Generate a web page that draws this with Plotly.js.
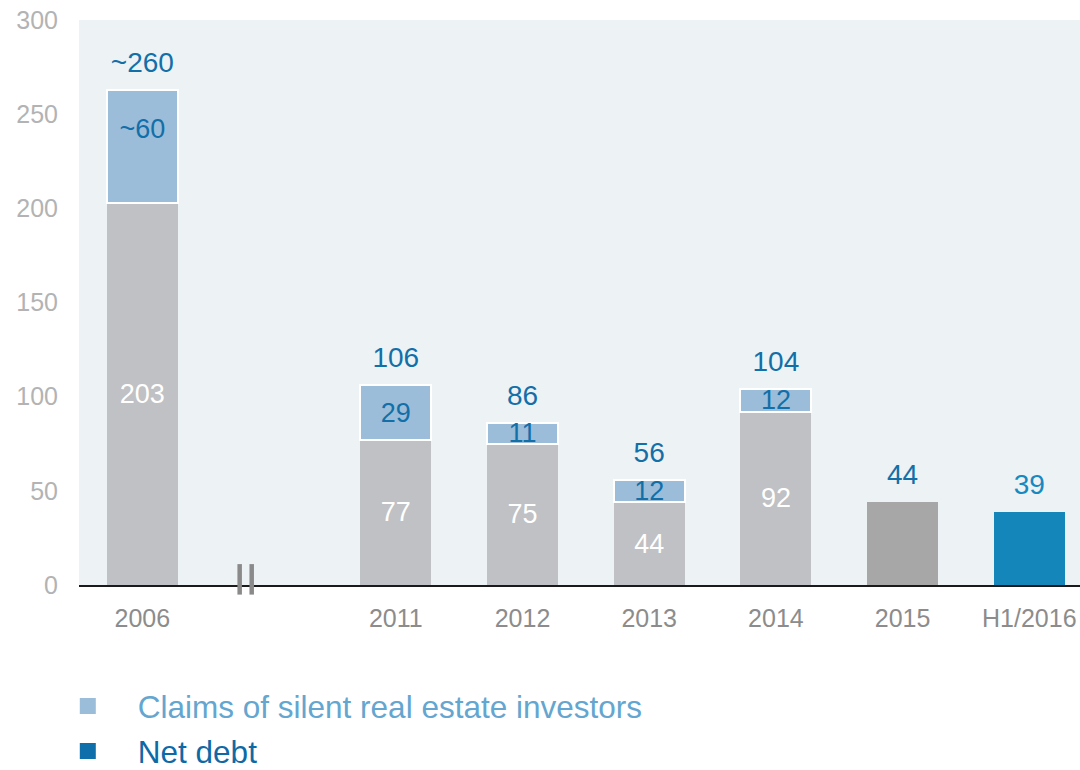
<!DOCTYPE html>
<html>
<head>
<meta charset="utf-8">
<script src="https://cdn.plot.ly/plotly-3.0.1.min.js"></script>
<style>html,body{margin:0;padding:0;background:#fff;}#chart{width:1080px;height:770px;}</style>
</head>
<body>
<div id="chart"></div>
<script>
// ---- data ----
var categories = ['2006', ' ', '2011', '2012', '2013', '2014', '2015', 'H1/2016'];
var baseValues = [203, null, 77, 75, 44, 92, null, null];
var baseLabels = ['203', '', '77', '75', '44', '92', '', ''];
var value2015 = [null, null, null, null, null, null, 44, null];
var netDebtValues = [null, null, null, null, null, null, null, 39];
var claimsValues = [null, null, 29, 11, 12, 12, null, null];
var claimsLabels = ['', '', '29', '11', '12', '12', '', ''];
var claims2006Values = [60, null, null, null, null, null, null, null];
var claims2006Labels = ['~60<br>\u00a0', '', '', '', '', '', '', ''];
var totalValues = [263, null, 106, 86, 56, 104, 44, 39];
var totalLabels = ['~260', '', '106', '86', '56', '104', '44', '39'];
var yTicks = [0, 50, 100, 150, 200, 250, 300];
var legendNames = ['Claims of silent real estate investors', 'Net debt'];

var FONT = '"Liberation Sans", Arial, sans-serif';
var GRAY = '#c0c1c4', GRAY2015 = '#a7a7a7', NETDEBT = '#1486b9', CLAIMS = '#9bbdd9';
var BLUE_TXT = '#136fa8';

var traces = [
  {
    type: 'bar', x: categories, y: baseValues, name: 'Base',
    marker: {color: GRAY},
    text: baseLabels, textposition: 'inside', insidetextanchor: 'middle', constraintext: 'none', textangle: 0,
    textfont: {family: FONT, size: 27, color: '#ffffff'},
    showlegend: false, hoverinfo: 'x+y'
  },
  {
    type: 'bar', x: categories, y: value2015, name: '2015',
    marker: {color: GRAY2015}, showlegend: false, hoverinfo: 'x+y'
  },
  {
    type: 'bar', x: categories, y: netDebtValues, name: legendNames[1],
    marker: {color: NETDEBT}, showlegend: false, hoverinfo: 'x+y'
  },
  {
    type: 'bar', x: categories, y: claimsValues, name: legendNames[0],
    showlegend: false,
    marker: {color: CLAIMS, line: {color: '#ffffff', width: 2}},
    text: claimsLabels, textposition: 'inside', insidetextanchor: 'middle', constraintext: 'none', textangle: 0,
    textfont: {family: FONT, size: 27, color: BLUE_TXT}, hoverinfo: 'x+y'
  },
  {
    type: 'bar', x: categories, y: claims2006Values, name: legendNames[0],
    showlegend: false,
    marker: {color: CLAIMS, line: {color: '#ffffff', width: 2}},
    text: claims2006Labels, textposition: 'inside', insidetextanchor: 'middle', constraintext: 'none', textangle: 0,
    textfont: {family: FONT, size: 27, color: BLUE_TXT}, hoverinfo: 'x+y'
  },
  {
    type: 'scatter', mode: 'text+markers', x: categories, y: totalValues,
    text: totalLabels, textposition: 'top center',
    marker: {size: 16, opacity: 0},
    textfont: {family: FONT, size: 28, color: [BLUE_TXT, BLUE_TXT, BLUE_TXT, BLUE_TXT, BLUE_TXT, BLUE_TXT, BLUE_TXT, '#1a88c0']},
    showlegend: false, hoverinfo: 'skip', cliponaxis: false
  },
  // legend entries (no points of their own)
  {
    type: 'scatter', mode: 'markers', x: [null], y: [null],
    name: '<span style="color:#64a6cf">' + legendNames[0] + '</span>',
    marker: {symbol: 'square', size: 17, color: CLAIMS}, legend: 'legend', hoverinfo: 'skip'
  },
  {
    type: 'scatter', mode: 'markers', x: [null], y: [null],
    name: '<span style="color:#0d6aa6">' + legendNames[1] + '</span>',
    marker: {symbol: 'square', size: 17, color: '#0f6fab'}, legend: 'legend2', hoverinfo: 'skip'
  }
];

var legendBase = {
  orientation: 'v', xref: 'container', yref: 'container',
  x: 0.035, xanchor: 'left', yanchor: 'middle',
  font: {family: FONT, size: 31.5},
  itemwidth: 90, bgcolor: 'rgba(0,0,0,0)'
};

var layout = {
  width: 1080, height: 770,
  margin: {l: 79, r: 0, t: 20, b: 185, autoexpand: false},
  paper_bgcolor: '#ffffff', plot_bgcolor: '#edf2f5',
  barmode: 'stack', bargap: 0.44,
  font: {family: FONT},
  xaxis: {
    type: 'category', categoryorder: 'array', categoryarray: categories,
    range: [-0.5, 7.4], showgrid: false, zeroline: false,
    showline: true, linecolor: '#1a1a1a', linewidth: 2,
    ticks: '', ticklabelstandoff: 10, tickangle: 0,
    tickfont: {family: FONT, size: 25, color: '#8c8c8c'},
    fixedrange: true
  },
  yaxis: {
    range: [0, 300], tickvals: yTicks, showgrid: false, zeroline: false, showline: false,
    ticks: '', ticklabelstandoff: 20,
    tickfont: {family: FONT, size: 25, color: '#b3b3b3'},
    fixedrange: true
  },
  legend: Object.assign({}, legendBase, {y: 1 - 706 / 770}),
  legend2: Object.assign({}, legendBase, {y: 1 - 751 / 770}),
  shapes: [
    {type: 'line', xref: 'x', yref: 'paper', x0: 0.768, x1: 0.768, y0: -0.017, y1: 0.037,
     line: {color: '#8a8a8a', width: 4.5}, layer: 'above'},
    {type: 'line', xref: 'x', yref: 'paper', x0: 0.863, x1: 0.863, y0: -0.017, y1: 0.037,
     line: {color: '#8a8a8a', width: 4.5}, layer: 'above'}
  ],
  showlegend: true
};

Plotly.newPlot('chart', traces, layout, {displayModeBar: false, staticPlot: true});
</script>
</body>
</html>
